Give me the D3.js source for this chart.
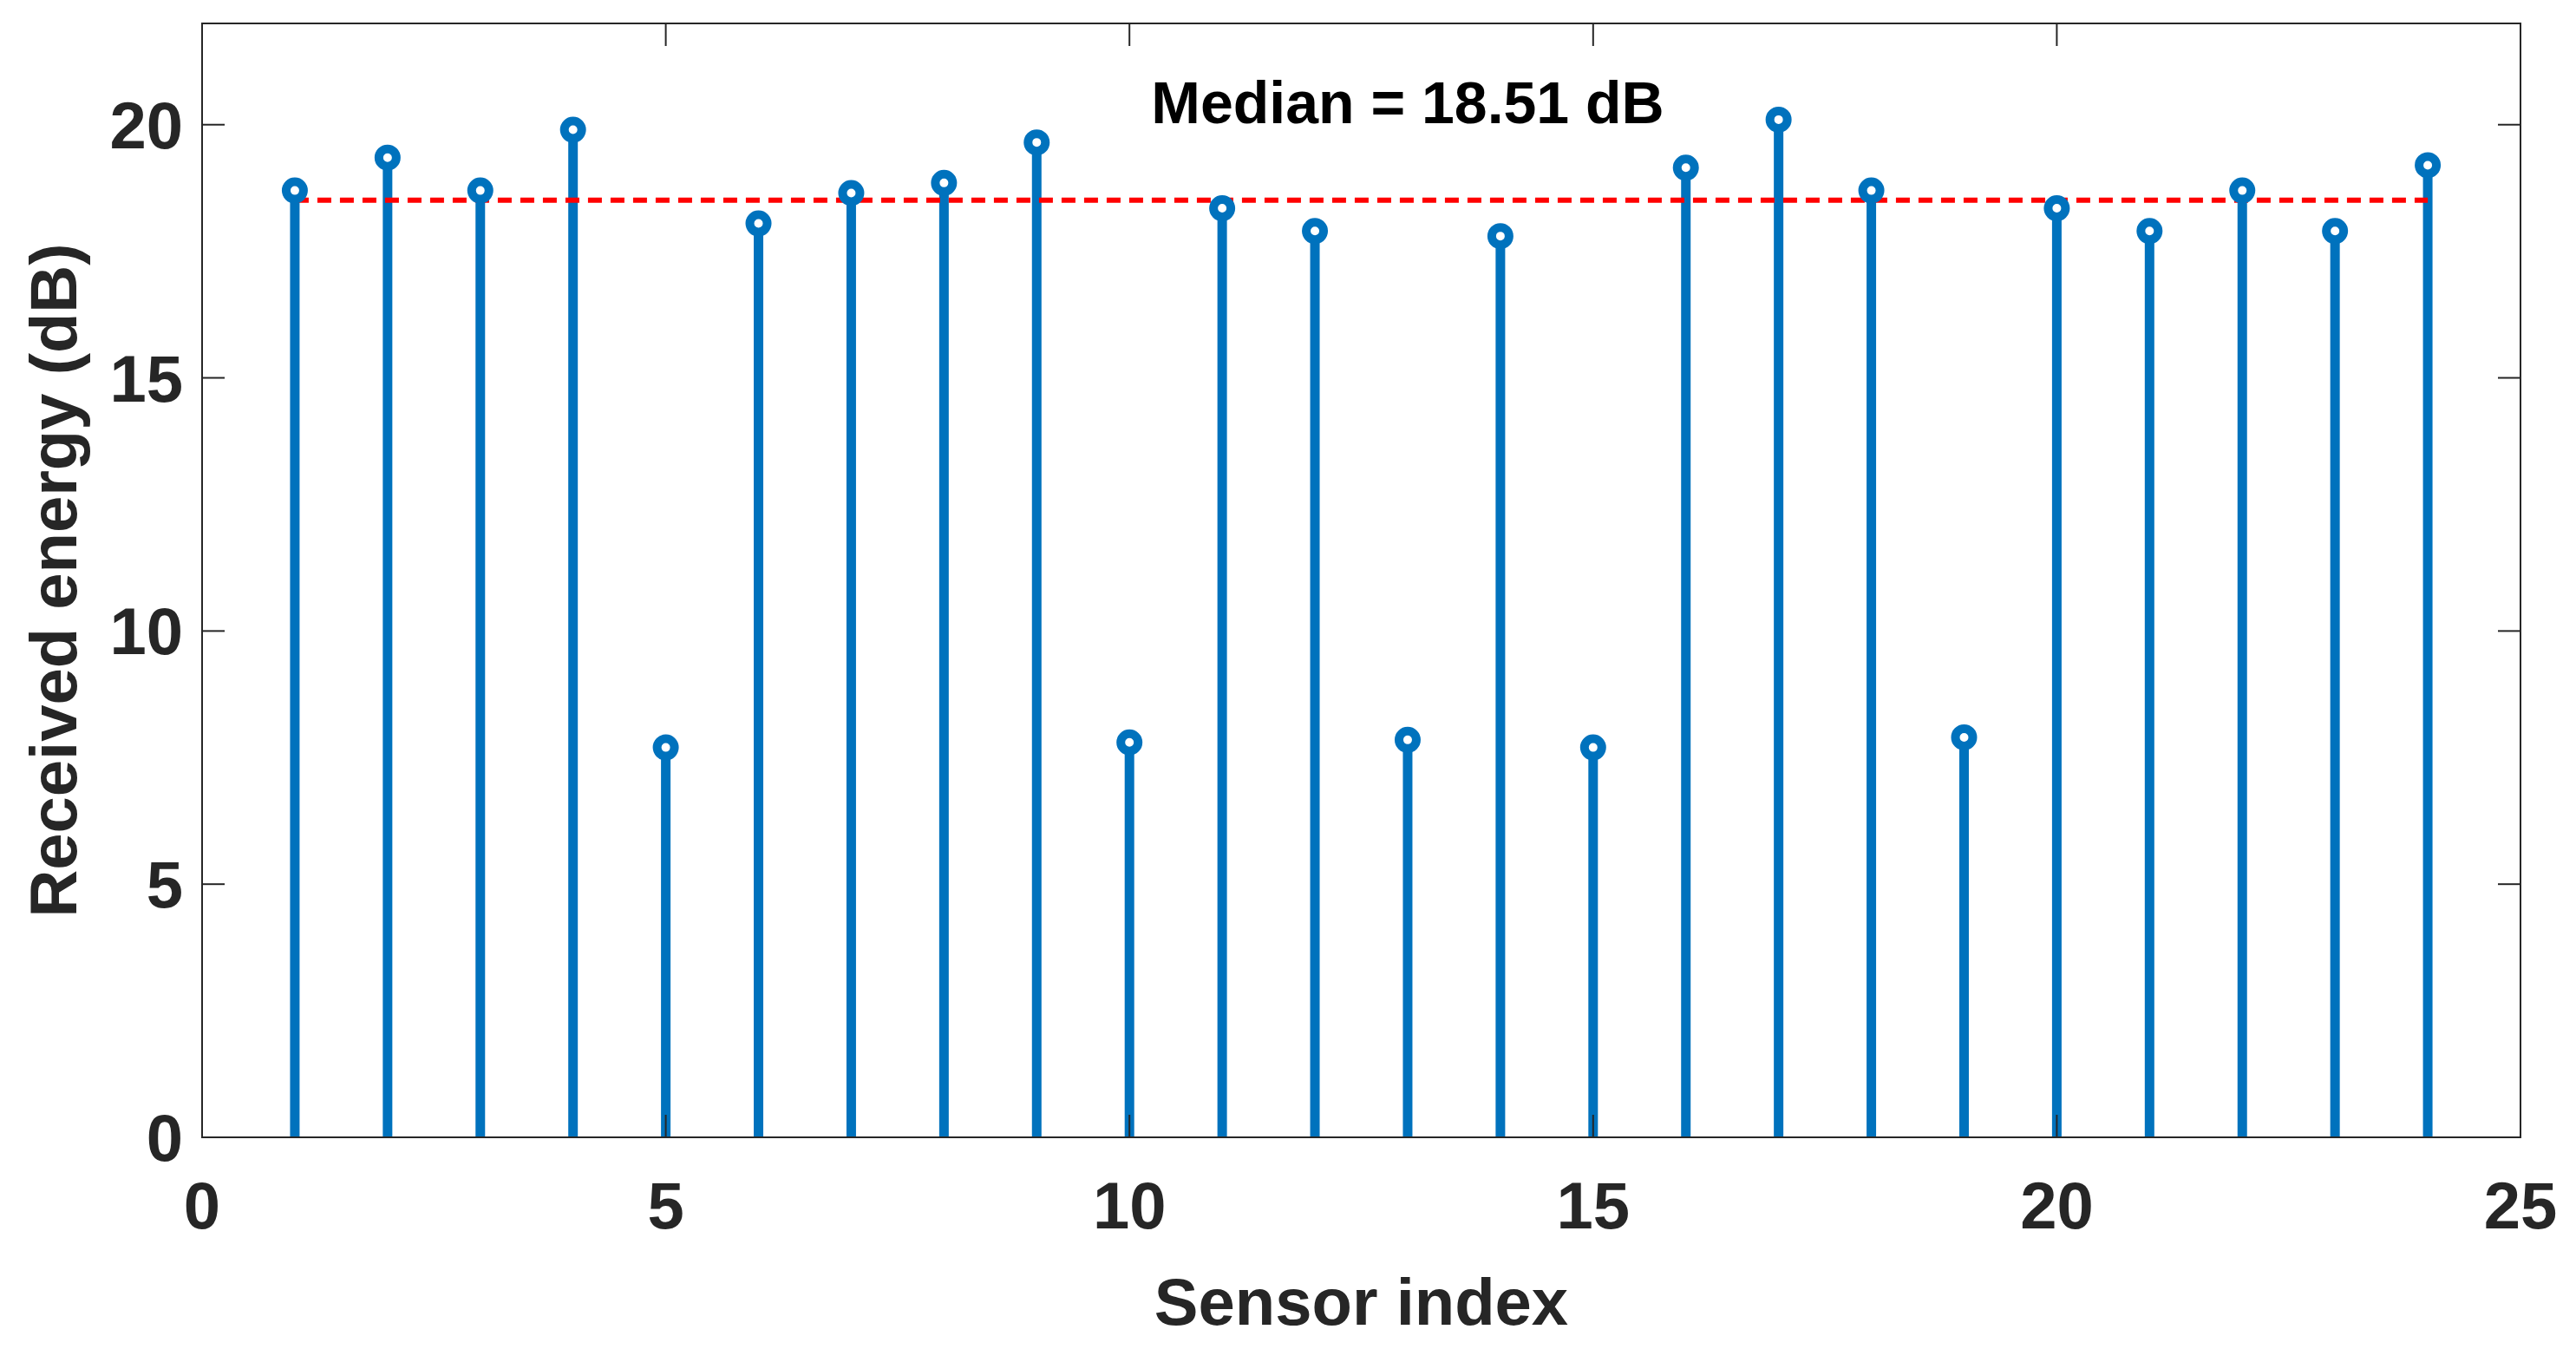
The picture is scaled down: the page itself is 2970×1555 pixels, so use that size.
<!DOCTYPE html>
<html><head><meta charset="utf-8">
<script src="https://cdn.jsdelivr.net/npm/d3@7"></script>
<style>body{margin:0;background:#fff}text{font-family:"Liberation Sans",Arial,sans-serif;font-weight:bold;fill:#262626}</style>
</head><body><svg id="c" width="2970" height="1555"></svg>
<script>
const sensors = d3.range(1, 25);
const energy = [18.7,19.35,18.7,19.9,7.7,18.05,18.65,18.85,19.65,7.8,18.35,17.9,7.85,17.8,7.7,19.15,20.1,18.7,7.9,18.35,17.9,18.7,17.9,19.2];
const median = 18.51;
const xTicks = [0,5,10,15,20,25];
const yTicks = [0,5,10,15,20];

const m = {l:233, r:2906, t:27, b:1311};
const svg = d3.select("#c");
const x = d3.scaleLinear().domain([0,25]).range([m.l,m.r]);
const y = d3.scaleLinear().domain([0,22]).range([m.b,m.t]);
const blue = "#0072BD";

const g = svg.append("g");
g.selectAll("line.stem").data(sensors).join("line")
  .attr("x1",d=>x(d)).attr("x2",d=>x(d)).attr("y1",y(0)).attr("y2",(d,i)=>y(energy[i]))
  .attr("stroke",blue).attr("stroke-width",11);
g.append("line").attr("x1",x(1)).attr("x2",x(24)).attr("y1",y(median)).attr("y2",y(median))
  .attr("stroke","#FF0000").attr("stroke-width",6).attr("stroke-dasharray","16,10");
g.selectAll("circle").data(sensors).join("circle")
  .attr("cx",d=>x(d)).attr("cy",(d,i)=>y(energy[i])).attr("r",10)
  .attr("fill","#fff").attr("stroke",blue).attr("stroke-width",10);

svg.append("rect").attr("x",m.l).attr("y",m.t).attr("width",m.r-m.l).attr("height",m.b-m.t)
  .attr("fill","none").attr("stroke","#262626").attr("stroke-width",2);
const tl = 26;
xTicks.forEach(t=>{
  svg.append("line").attr("x1",x(t)).attr("x2",x(t)).attr("y1",m.b).attr("y2",m.b-tl).attr("stroke","#262626").attr("stroke-width",2);
  svg.append("line").attr("x1",x(t)).attr("x2",x(t)).attr("y1",m.t).attr("y2",m.t+tl).attr("stroke","#262626").attr("stroke-width",2);
  svg.append("text").attr("x",x(t)).attr("y",m.b+105).attr("text-anchor","middle").attr("font-size",76).text(t);
});
yTicks.forEach(t=>{
  svg.append("line").attr("x1",m.l).attr("x2",m.l+tl).attr("y1",y(t)).attr("y2",y(t)).attr("stroke","#262626").attr("stroke-width",2);
  svg.append("line").attr("x1",m.r).attr("x2",m.r-tl).attr("y1",y(t)).attr("y2",y(t)).attr("stroke","#262626").attr("stroke-width",2);
  svg.append("text").attr("x",m.l-22).attr("y",y(t)+27).attr("text-anchor","end").attr("font-size",76).text(t);
});
svg.append("text").attr("x",(m.l+m.r)/2).attr("y",1527).attr("text-anchor","middle").attr("font-size",76).text("Sensor index");
svg.append("text").attr("transform",`translate(88,${(m.t+m.b)/2}) rotate(-90)`).attr("text-anchor","middle").attr("font-size",76).text("Received energy (dB)");
svg.append("text").attr("x",1623).attr("y",142).attr("text-anchor","middle").attr("font-size",68).style("fill","#000").text("Median = 18.51 dB");
</script></body></html>
